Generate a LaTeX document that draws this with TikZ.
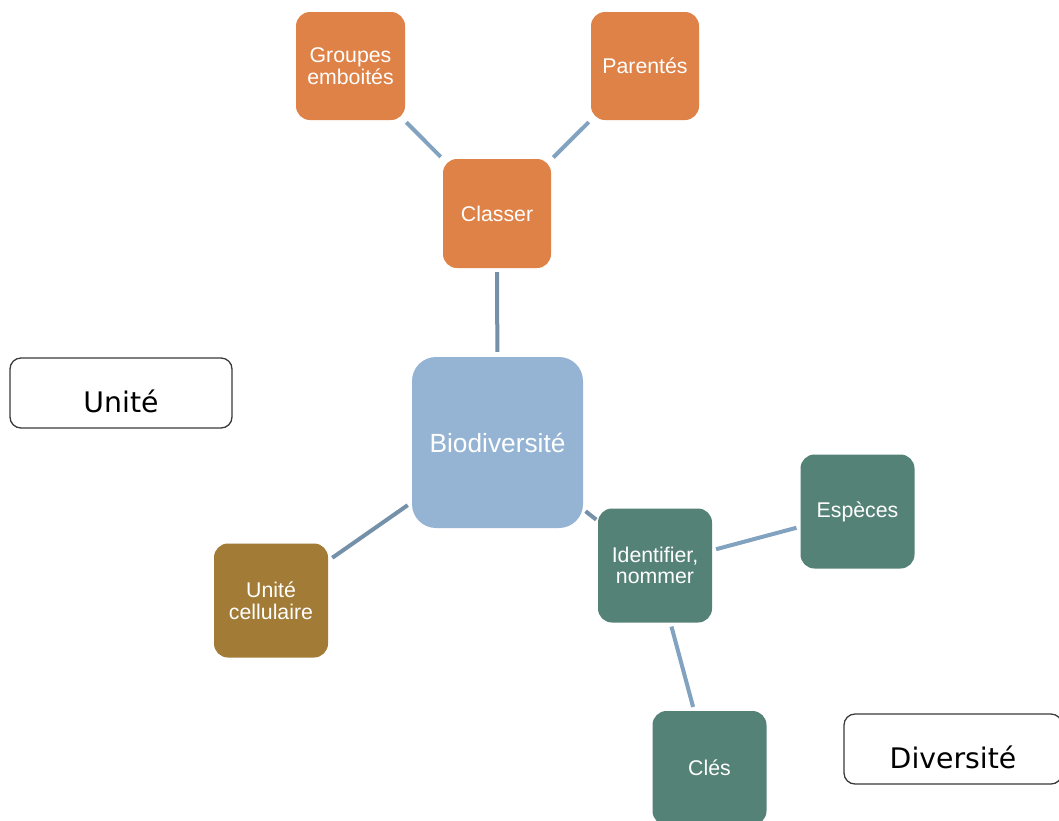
\documentclass[tikz,border=0pt]{standalone}
\usepackage{fontspec}
\setmainfont{Liberation Sans}
\newfontfamily\labelfont{DejaVu Sans}
\definecolor{orangebox}{HTML}{DF8247}
\definecolor{bluebox}{HTML}{95B4D3}
\definecolor{tealbox}{HTML}{558277}
\definecolor{brownbox}{HTML}{A27C37}
\definecolor{linklight}{HTML}{82A3C0}
\definecolor{linkdark}{HTML}{7590A9}
\definecolor{frame}{HTML}{3A3A3A}
\tikzset{
  topic/.style={rounded corners=14pt, inner sep=0pt, minimum width=110pt, minimum height=110pt,
    text=white, align=center, font=\fontsize{21.3}{21.5}\selectfont},
  orangetopic/.style={topic, fill=orangebox},
  tealtopic/.style={topic, fill=tealbox, minimum width=114pt, minimum height=114pt},
  browntopic/.style={topic, fill=brownbox, minimum width=114pt, minimum height=114pt},
  centraltopic/.style={rounded corners=24pt, inner sep=0pt, minimum width=171pt, minimum height=171pt,
    fill=bluebox, text=white, font=\fontsize{26.3}{28}\selectfont},
  tagbox/.style={draw=frame, line width=1.3pt, rounded corners=11pt, fill=white, inner sep=0pt,
    minimum height=70pt, text height=39pt, text depth=0pt, font=\labelfont\fontsize{28.3}{30}\selectfont},
  link/.style={line width=4pt, linklight},
  darklink/.style={line width=4pt, linkdark}
}
\begin{document}
\begin{tikzpicture}[x=1pt,y=-1pt]
\clip (0,0) rectangle (1059,820);
\fill[white] (0,0) rectangle (1059,820);

\node[tagbox, minimum width=222pt] (unite) at (121,393) {Unité};
\node[tagbox, minimum width=218pt] (diversite) at (953,749) {Diversité};

\node[centraltopic] (bio) at (497.5,442.5) {Biodiversité};
\node[orangetopic, minimum width=108pt, minimum height=109pt] (classer) at (497,213.5) {Classer};
\node[orangetopic, minimum width=109pt, minimum height=108pt] (groupes) at (350.5,66) {Groupes\\emboités};
\node[orangetopic, minimum width=108pt, minimum height=108pt] (parentes) at (645,66) {Parentés};
\node[browntopic] (cellule) at (271,600.5) {Unité\\cellulaire};
\node[tealtopic] (identifier) at (655,565.5) {Identifier,\\nommer};
\node[tealtopic] (especes) at (857.5,511.5) {Espèces};
\node[tealtopic] (cles) at (709.5,768) {Clés};

\draw[link, shorten <=3pt, shorten >=3pt] (groupes) -- (classer);
\draw[link, shorten <=3pt, shorten >=3pt] (parentes) -- (classer);
\draw[darklink, shorten <=4pt, shorten >=5pt] (classer) -- (bio);
\draw[darklink, shorten <=5pt, shorten >=5pt] (bio) -- (cellule);
\draw[darklink, shorten <=3pt, shorten >=2pt] (bio) -- (identifier);
\draw[link, shorten <=4pt, shorten >=4pt] (identifier) -- (especes);
\draw[link, shorten <=4pt, shorten >=4pt] (identifier) -- (cles);
\end{tikzpicture}
\end{document}
